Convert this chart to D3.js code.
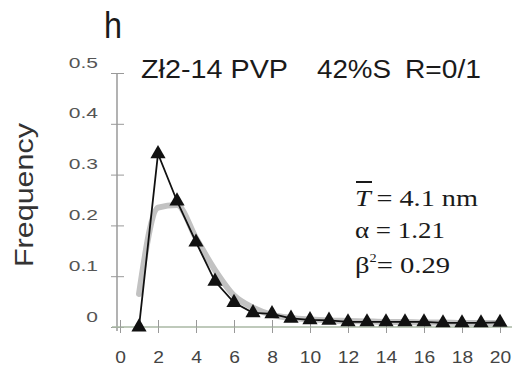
<!DOCTYPE html>
<html><head><meta charset="utf-8">
<script src="https://cdn.jsdelivr.net/npm/d3@7"></script>
<style>
html,body{margin:0;padding:0;background:#fff;}
svg{display:block;}
</style></head>
<body>
<svg id="chart" width="513" height="367"></svg>
<script>
// ---- data ----
const xValues = [1,2,3,4,5,6,7,8,9,10,11,12,13,14,15,16,17,18,19,20];
const measured = [0, 0.341, 0.248, 0.167, 0.090, 0.048, 0.028, 0.026, 0.017, 0.014, 0.013, 0.010, 0.010, 0.010, 0.010, 0.010, 0.008, 0.008, 0.008, 0.009];
const fitted   = [0.065, 0.235, 0.240, 0.175, 0.112, 0.062, 0.038, 0.024, 0.018, 0.015, 0.013, 0.012, 0.011, 0.010, 0.010, 0.009, 0.009, 0.008, 0.008, 0.008];
const xTicks = [0,2,4,6,8,10,12,14,16,18,20];
const yTicks = [0,0.1,0.2,0.3,0.4,0.5];
const panelLabel = "h";
const titleParts = ["Zł2-14 PVP", "42%S", "R=0/1"];
const yLabel = "Frequency";

const svg = d3.select("#chart");
const x = d3.scaleLinear().domain([0,20]).range([120,500]);
const y = d3.scaleLinear().domain([0,0.5]).range([327,73]);

function stretch(sel, f){ sel.each(function(){ const w=this.getComputedTextLength(); d3.select(this).attr("textLength", w*f).attr("lengthAdjust","spacingAndGlyphs"); }); }
const sans = "Arial, 'Liberation Sans', sans-serif";

// y axis
const yAxisG = svg.append("g").attr("transform","translate(117,0)");
yAxisG.call(d3.axisLeft(y).tickValues(yTicks).tickSize(6).tickFormat(""));
yAxisG.append("g").call(d3.axisRight(y).tickValues(yTicks).tickSize(7).tickFormat(""));
yAxisG.selectAll("path.domain").attr("stroke","#999").attr("d","M0,"+(y(0.5))+"V"+(y(0)+4));
yAxisG.selectAll("line").attr("stroke","#999");
yAxisG.selectAll(":scope > g.tick").append("text")
  .attr("x",-19).attr("dy",-6).attr("text-anchor","end")
  .attr("font-family",sans).attr("font-size",15).attr("fill","#555")
  .text(d=> d===0?"0":d3.format(".1f")(d))
  .call(stretch, 1.4);

// x axis
const xAxisG = svg.append("g").attr("transform","translate(0,327)");
xAxisG.call(d3.axisBottom(x).tickValues(xTicks).tickSize(6).tickFormat(""));
xAxisG.append("g").call(d3.axisTop(x).tickValues(xTicks).tickSize(7).tickFormat(""));
xAxisG.selectAll("path.domain").attr("stroke","#a9b8a4").attr("d","M112,0H512");
xAxisG.selectAll("line").attr("stroke","#999");
xAxisG.selectAll(":scope > g.tick").append("text")
  .attr("y",36).attr("text-anchor","middle")
  .attr("font-family",sans).attr("font-size",16).attr("fill","#444")
  .text(d=>d)
  .call(stretch, 1.2);

// fitted gray curve
const fitData = xValues.map((v,i)=>({x:v,y:fitted[i]}));
svg.append("path").datum(fitData)
  .attr("fill","none").attr("stroke","#c2c2c2").attr("stroke-width",6).attr("stroke-linejoin","round").attr("stroke-linecap","round")
  .attr("d", d3.line().x(d=>x(d.x)).y(d=>y(d.y)).curve(d3.curveMonotoneX));

// measured black line + triangles
const measData = xValues.map((v,i)=>({x:v,y:measured[i]}));
svg.append("path").datum(measData)
  .attr("fill","none").attr("stroke","#111").attr("stroke-width",1.8)
  .attr("d", d3.line().x(d=>x(d.x)).y(d=>y(d.y)));
svg.selectAll("path.tri").data(measData).enter().append("path")
  .attr("class","tri")
  .attr("transform", d=>`translate(${x(d.x)},${y(d.y)})`)
  .attr("d", d3.symbol().type(d3.symbolTriangle).size(100))
  .attr("fill","#111");

// texts
svg.append("text").attr("x",104).attr("y",38).attr("font-family",sans)
  .attr("font-size",36).attr("fill","#1a1a1a").attr("textLength",18).attr("lengthAdjust","spacingAndGlyphs").text(panelLabel);

const titleX = [141, 317, 405], titleW = [147, 74, 76];
titleParts.forEach((t,i)=>{
  svg.append("text").attr("x",titleX[i]).attr("y",78)
    .attr("font-family",sans).attr("font-size",25).attr("fill","#1a1a1a")
    .attr("textLength",titleW[i]).attr("lengthAdjust","spacingAndGlyphs").text(t);
});

svg.append("text").attr("transform","translate(33,195) rotate(-90)").attr("text-anchor","middle")
  .attr("font-family",sans).attr("font-size",26).attr("fill","#333")
  .attr("textLength",144).attr("lengthAdjust","spacingAndGlyphs").text(yLabel);

// statistics block
const tf = "'Liberation Serif', 'DejaVu Serif', serif";
const t1 = svg.append("text").attr("x",355).attr("y",206).attr("font-family",tf).attr("font-size",24).attr("fill","#1a1a1a")
  .attr("textLength",123).attr("lengthAdjust","spacingAndGlyphs");
t1.append("tspan").attr("font-style","italic").text("T");
t1.append("tspan").text("\u2009= 4.1 nm");
svg.append("line").attr("x1",356).attr("x2",372).attr("y1",182).attr("y2",182).attr("stroke","#1a1a1a").attr("stroke-width",2);
svg.append("text").attr("x",355).attr("y",238).attr("font-family",tf).attr("font-size",24).attr("fill","#1a1a1a")
  .attr("textLength",90).attr("lengthAdjust","spacingAndGlyphs").text("\u03b1 = 1.21");
const t3 = svg.append("text").attr("x",355).attr("y",273).attr("font-family",tf).attr("font-size",24).attr("fill","#1a1a1a")
  .attr("textLength",95).attr("lengthAdjust","spacingAndGlyphs");
t3.append("tspan").text("\u03b2");
t3.append("tspan").attr("font-size",12).attr("dy",-11).text("2");
t3.append("tspan").attr("dy",11).text("= 0.29");
</script>
</body></html>
